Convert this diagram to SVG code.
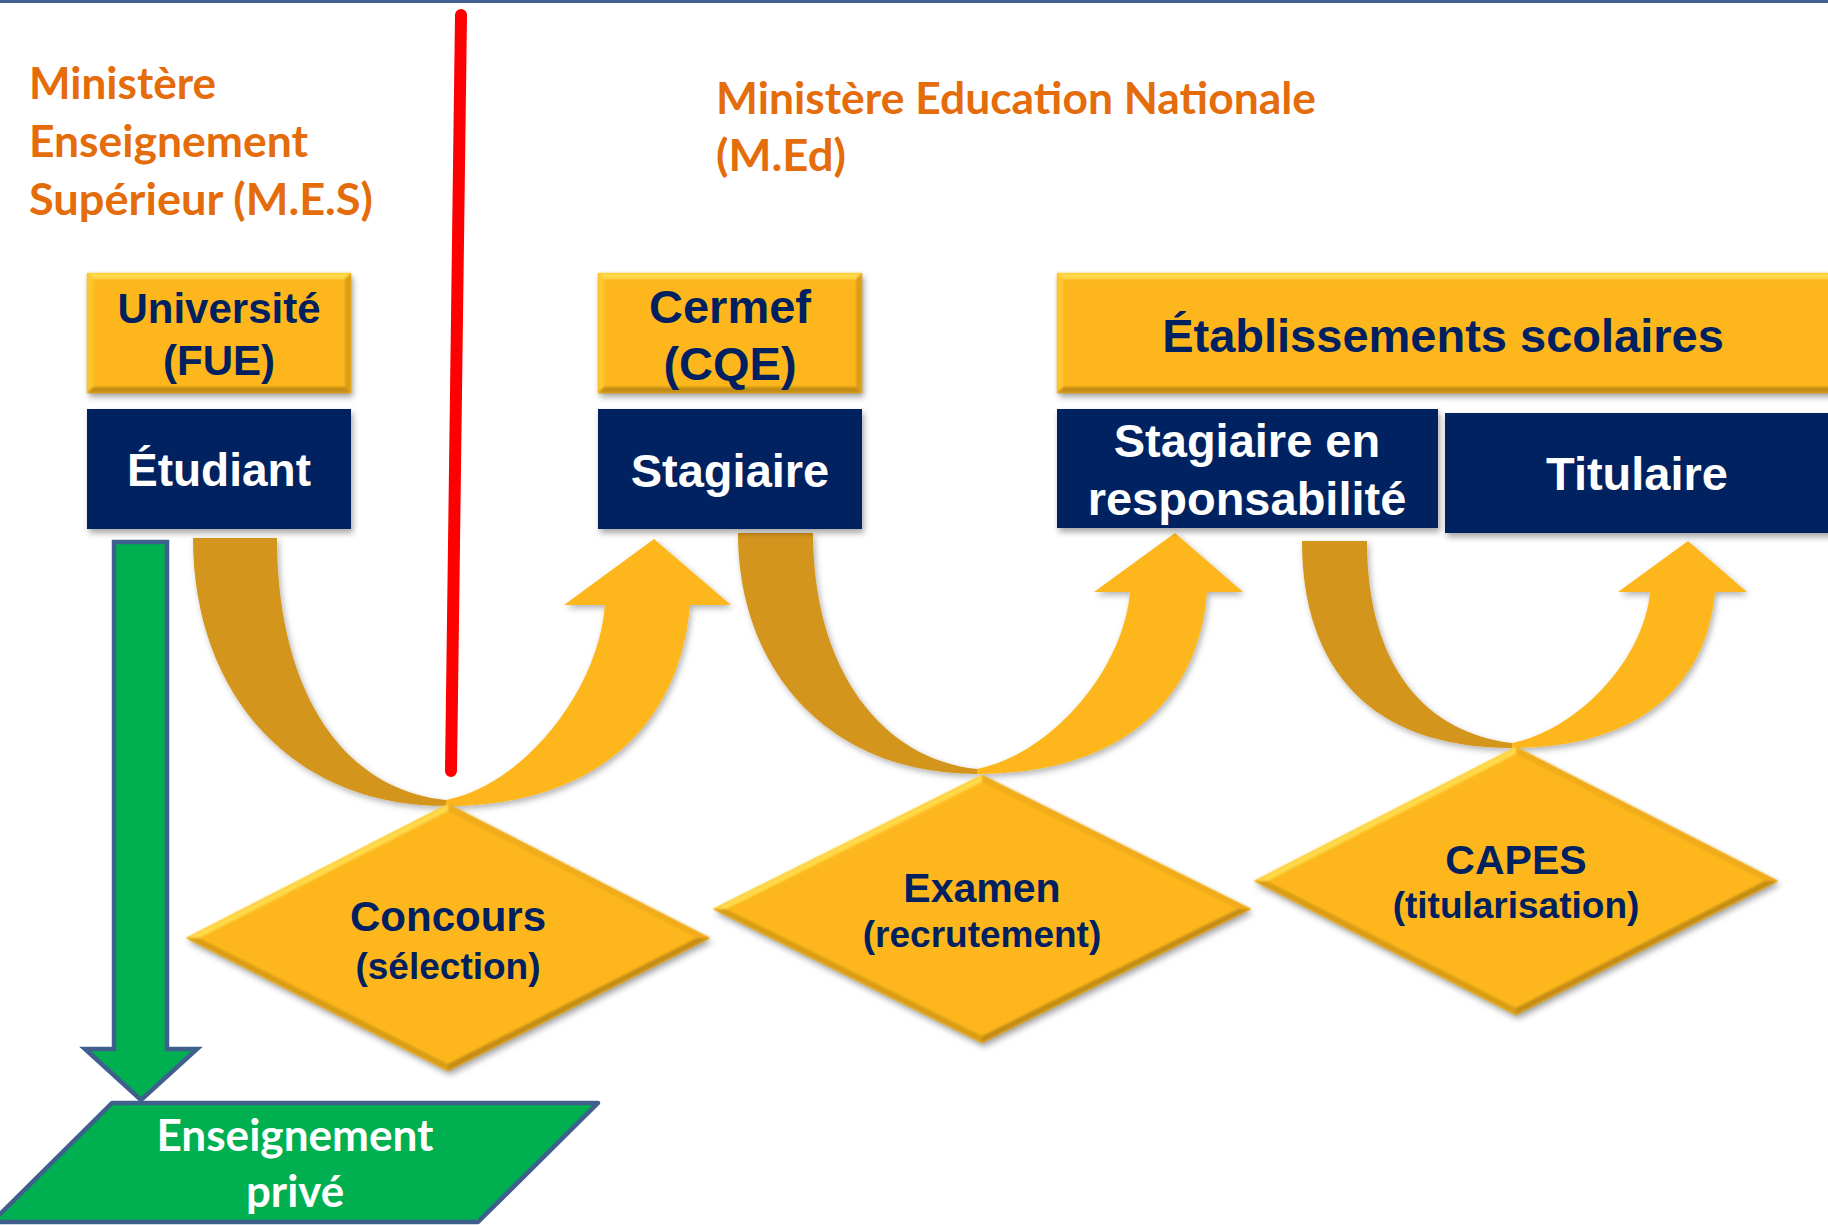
<svg xmlns="http://www.w3.org/2000/svg" width="1828" height="1225" viewBox="0 0 1828 1225">
<defs>
<filter id="sh" x="-10%" y="-10%" width="130%" height="140%">
<feDropShadow dx="2" dy="4" stdDeviation="3" flood-color="#000" flood-opacity="0.35"/>
</filter>
<filter id="ash" x="-10%" y="-10%" width="130%" height="130%">
<feDropShadow dx="2" dy="3" stdDeviation="3" flood-color="#000" flood-opacity="0.3"/>
</filter>
<filter id="soft"><feGaussianBlur stdDeviation="1"/></filter>
</defs>
<style>
.gold{fill:#FDB71B}
.navy{fill:#002060}
.dark{fill:#D4951A}
.hl{fill:#FFDA4C}
.hl2{fill:#FCC733}
.sd{fill:#C48D12}
.sd2{fill:#D99D17}
.lbl{font-family:"Liberation Sans",Arial,sans-serif;font-weight:bold;fill:#002060;text-anchor:middle}
.wl{font-family:"Liberation Sans",Arial,sans-serif;font-weight:bold;fill:#FFFFFF;text-anchor:middle}
.org{font-family:Lato,"Liberation Sans",sans-serif;font-weight:bold;fill:#E46C0A;font-size:44px}
.grn{font-family:Lato,"Liberation Sans",sans-serif;font-weight:bold;fill:#FFFFFF;font-size:44px;text-anchor:middle}
</style>
<rect x="0" y="0" width="1828" height="1225" fill="#FFFFFF"/>
<rect x="0" y="0" width="1828" height="3" fill="#41628F"/>

<g id="titles">
<text class="org" x="29" y="99" textLength="187" lengthAdjust="spacingAndGlyphs">Ministère</text>
<text class="org" x="29" y="157" textLength="279" lengthAdjust="spacingAndGlyphs">Enseignement</text>
<text class="org" x="29" y="215" textLength="344" lengthAdjust="spacingAndGlyphs">Supérieur (M.E.S)</text>
<text class="org" x="716" y="114" textLength="600" lengthAdjust="spacingAndGlyphs">Ministère Education Nationale</text>
<text class="org" x="716" y="171" textLength="130" lengthAdjust="spacingAndGlyphs">(M.Ed)</text>
</g>

<g id="connectors">
<g id="arrow-concours" filter="url(#ash)">
<path class="dark" d="M193,538 L277,538 C277,691 343,790 446,800 L446,806 C289,806 193,691 193,538 Z"/>
<path class="gold" d="M446,800 C521,786 598,693 605,605 L564,605 L654,539 L731,605 L690,605 C680,724 597,806 446,806 Z"/>
</g>
<g id="arrow-examen" filter="url(#ash)">
<path class="dark" d="M738,533 L813,533 C813,670 882,759 977,769 L977,774 C829,774 738,670 738,533 Z"/>
<path class="gold" d="M977,769 C1049,755 1123,672 1130,592 L1094,592 L1175,533 L1243,592 L1207,592 C1199,699 1122,774 977,774 Z"/>
</g>
<g id="arrow-capes" filter="url(#ash)">
<path class="dark" d="M1302,541 L1367,541 C1367,669 1428,733 1512,743 L1512,748 C1371,748 1302,669 1302,541 Z"/>
<path class="gold" d="M1512,743 C1577,730 1644,660 1650,592 L1618,592 L1688,541 L1747,592 L1715,592 C1707,684 1640,748 1512,748 Z"/>
</g>
<path id="arrow-prive" d="M114,542 L167,542 L167,1049 L197,1049 L141,1100 L85,1049 L114,1049 Z" fill="#00AF50" stroke="#3F5F8C" stroke-width="4.5" stroke-linejoin="miter"/>
<line id="separator" x1="461" y1="15" x2="451" y2="771" stroke="#FF0000" stroke-width="12" stroke-linecap="round"/>
</g>

<g id="universite">
<g filter="url(#sh)"><rect class="gold" x="87" y="273" width="264" height="120"/></g>
<g filter="url(#soft)">
<polygon class="hl" points="87,273 351,273 345,279 93,279"/>
<polygon class="hl2" points="87,273 93,279 93,387 87,393"/>
<polygon class="sd" points="87,393 93,387 345,387 351,393"/>
<polygon class="sd2" points="351,273 351,393 345,387 345,279"/>
</g>
<text class="lbl" x="219" y="323" font-size="42">Université</text>
<text class="lbl" x="219" y="375" font-size="42">(FUE)</text>
</g>

<g id="etudiant">
<rect class="navy" x="87" y="409" width="264" height="120" filter="url(#sh)"/>
<text class="wl" x="219" y="486" font-size="46">Étudiant</text>
</g>

<g id="cermef">
<g filter="url(#sh)"><rect class="gold" x="598" y="273" width="264" height="120"/></g>
<g filter="url(#soft)">
<polygon class="hl" points="598,273 862,273 856,279 604,279"/>
<polygon class="hl2" points="598,273 604,279 604,387 598,393"/>
<polygon class="sd" points="598,393 604,387 856,387 862,393"/>
<polygon class="sd2" points="862,273 862,393 856,387 856,279"/>
</g>
<text class="lbl" x="730" y="323" font-size="47">Cermef</text>
<text class="lbl" x="730" y="380" font-size="47">(CQE)</text>
</g>

<g id="stagiaire">
<rect class="navy" x="598" y="409" width="264" height="120" filter="url(#sh)"/>
<text class="wl" x="730" y="487" font-size="47">Stagiaire</text>
</g>

<g id="etablissements">
<g filter="url(#sh)"><rect class="gold" x="1057" y="273" width="790" height="120"/></g>
<g filter="url(#soft)">
<polygon class="hl" points="1057,273 1840,273 1840,279 1063,279"/>
<polygon class="hl2" points="1057,273 1063,279 1063,387 1057,393"/>
<polygon class="sd" points="1057,393 1063,387 1840,387 1840,393"/>
</g>
<text class="lbl" x="1443" y="352" font-size="47">Établissements scolaires</text>
</g>

<g id="stagiaire-responsabilite">
<rect class="navy" x="1057" y="409" width="381" height="119" filter="url(#sh)"/>
<text class="wl" x="1247" y="457" font-size="47">Stagiaire en</text>
<text class="wl" x="1247" y="515" font-size="47">responsabilité</text>
</g>

<g id="titulaire">
<rect class="navy" x="1445" y="413" width="400" height="120" filter="url(#sh)"/>
<text class="wl" x="1637" y="490" font-size="47">Titulaire</text>
</g>

<g id="concours">
<polygon class="gold" points="448,804 710,938 448,1071 186,938" filter="url(#sh)"/>
<g filter="url(#soft)">
<polygon class="hl" points="186,938 448,804 448,811 199,938"/>
<polygon fill="#F0AC1A" points="448,804 710,938 697,938 448,811"/>
<polygon class="sd" points="710,938 448,1071 448,1064 697,938"/>
<polygon class="sd2" points="448,1071 186,938 199,938 448,1064"/>
</g>
<text class="lbl" x="448" y="931" font-size="42">Concours</text>
<text class="lbl" x="448" y="979" font-size="37">(sélection)</text>
</g>

<g id="examen">
<polygon class="gold" points="982,775 1251,909 982,1043 713,909" filter="url(#sh)"/>
<g filter="url(#soft)">
<polygon class="hl" points="713,909 982,775 982,782 726,909"/>
<polygon fill="#F0AC1A" points="982,775 1251,909 1238,909 982,782"/>
<polygon class="sd" points="1251,909 982,1043 982,1036 1238,909"/>
<polygon class="sd2" points="982,1043 713,909 726,909 982,1036"/>
</g>
<text class="lbl" x="982" y="902" font-size="41">Examen</text>
<text class="lbl" x="982" y="947" font-size="37">(recrutement)</text>
</g>

<g id="capes">
<polygon class="gold" points="1516,747 1778,881 1516,1015 1254,881" filter="url(#sh)"/>
<g filter="url(#soft)">
<polygon class="hl" points="1254,881 1516,747 1516,754 1267,881"/>
<polygon fill="#F0AC1A" points="1516,747 1778,881 1765,881 1516,754"/>
<polygon class="sd" points="1778,881 1516,1015 1516,1008 1765,881"/>
<polygon class="sd2" points="1516,1015 1254,881 1267,881 1516,1008"/>
</g>
<text class="lbl" x="1516" y="874" font-size="41">CAPES</text>
<text class="lbl" x="1516" y="918" font-size="37">(titularisation)</text>
</g>

<g id="enseignement-prive">
<polygon points="112,1103 598,1103 478,1222 -8,1222" fill="#00AF50" stroke="#3F5F8C" stroke-width="4.5" stroke-linejoin="round"/>
<text class="grn" x="295" y="1151" textLength="277" lengthAdjust="spacingAndGlyphs">Enseignement</text>
<text class="grn" x="295" y="1207" textLength="98" lengthAdjust="spacingAndGlyphs">privé</text>
</g>
</svg>
